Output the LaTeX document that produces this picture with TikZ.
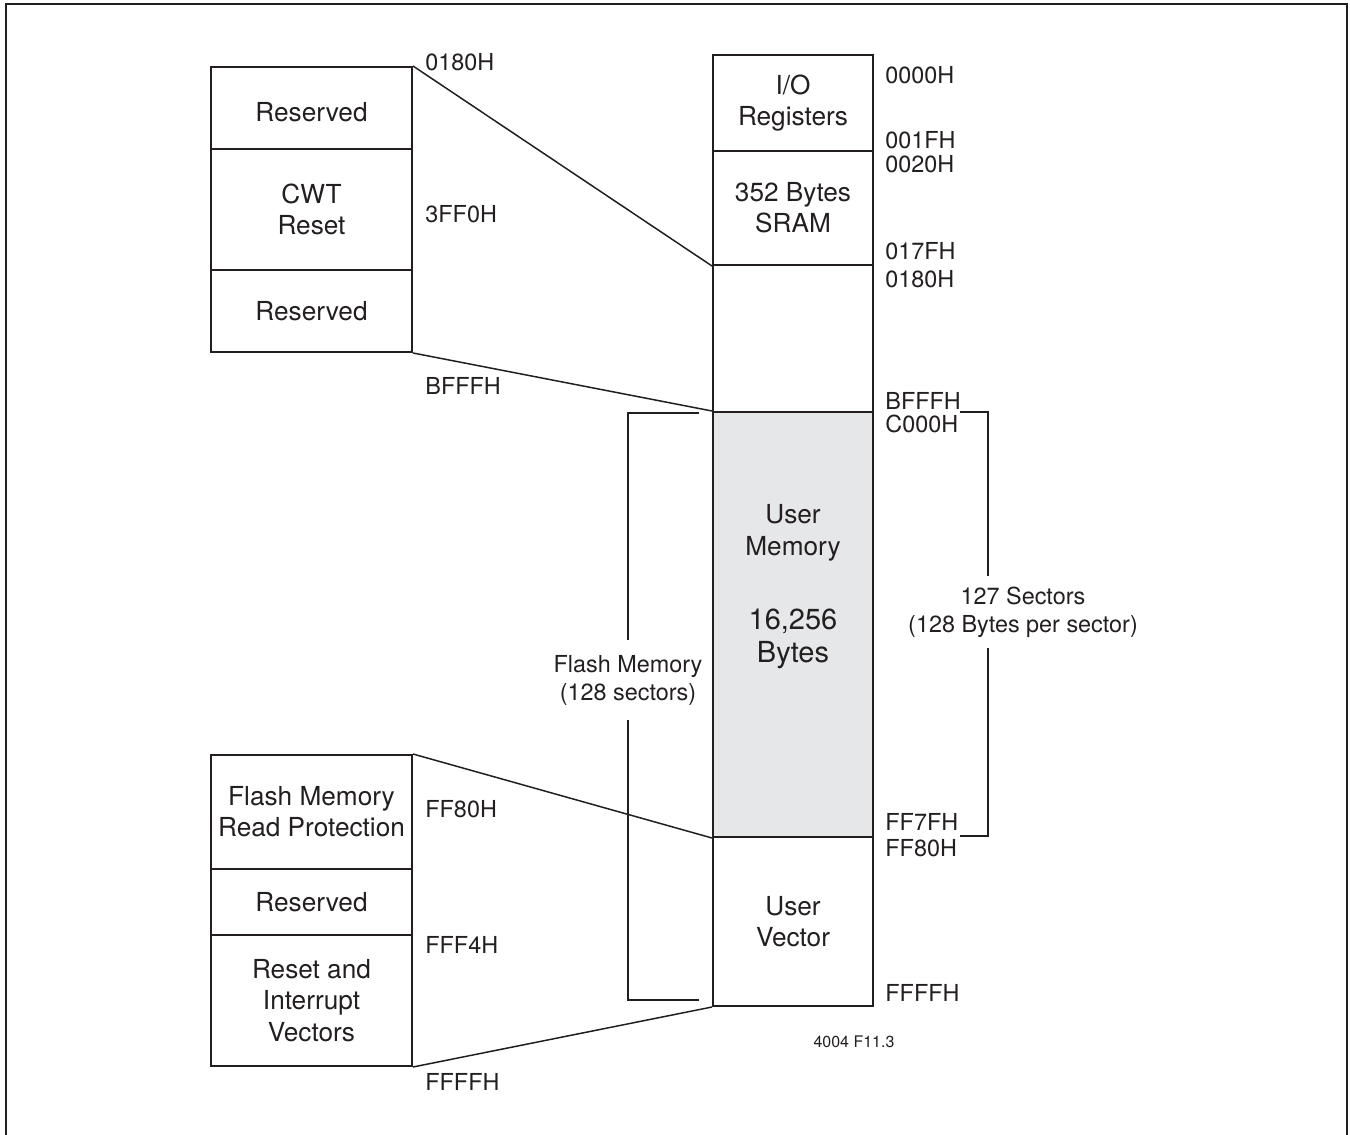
\documentclass[tikz,border=0pt]{standalone}
\usepackage{fontspec}
\setmainfont{TeX Gyre Heros}
\definecolor{ink}{RGB}{35,31,32}
\definecolor{memgray}{RGB}{230,231,232}
\begin{document}
\begin{tikzpicture}[x=0.5pt, y=-0.5pt, line join=miter, ink, text=ink,
	blk/.style={draw, line width=1pt, inner sep=0pt, align=center, font=\fontsize{13.1}{15.6}\selectfont},
	lbox/.style={blk, minimum width=100.5pt},
	colbox/.style={blk, minimum width=80pt},
	addr/.style={anchor=west, inner sep=0pt, font=\fontsize{11.7}{14}\selectfont},
	note/.style={align=center, inner sep=5pt, font=\fontsize{11.7}{14}\selectfont},
	link/.style={line width=0.75pt},
	brkt/.style={line width=1pt}]
	\useasboundingbox (0,0) rectangle (1350,1135);
	\draw[line width=1.4pt] (6,1135) -- (6,4) -- (1347,4) -- (1347,1135);
	% left blow-ups
	\node[lbox, minimum height=41pt, text height=13pt, text depth=0pt] (res1) at (311.5,108) {Reserved};
	\node[lbox, minimum height=60.5pt] (cwt) at (311.5,209.5) {CWT\\Reset};
	\node[lbox, minimum height=41pt] (res2) at (311.5,311) {Reserved};
	\node[lbox, minimum height=57pt] (frp) at (311.5,812) {Flash Memory\\Read Protection};
	\node[lbox, minimum height=33pt] (res3) at (311.5,902) {Reserved};
	\node[lbox, minimum height=65.5pt] (rst) at (311.5,1000.5) {Reset and\\Interrupt\\Vectors};
	% memory map
	\node[colbox, minimum height=48pt] (io) at (793,103) {I/O\\Registers};
	\node[colbox, minimum height=57pt] (sram) at (793,208) {352 Bytes\\SRAM};
	\node[colbox, minimum height=73.5pt] (free) at (793,338.5) {};
	\node[colbox, minimum height=212.5pt, fill=memgray] (user) at (793,624.5) {};
	\node[colbox, minimum height=84.5pt] (vec) at (793,921.5) {User\\Vector};
	\node[align=center, font=\fontsize{13.1}{15.8}\selectfont] (usrname) at (793,533) {User\\Memory};
	\node[align=center, font=\fontsize{14.5}{16.4}\selectfont] (usrsize) at (793,639) {16,256\\Bytes};
	\draw[link] (res1.north east) -- (sram.south west);
	\draw[link] (res2.south east) -- (user.north west);
	\draw[link] (frp.north east) -- (user.south west);
	\draw[link] (rst.south east) -- (vec.south west);
	\foreach \t/\y [count=\i] in {0180H/62, 3FF0H/214, BFFFH/386, FF80H/809, FFF4H/945, FFFFH/1082}
		\node[addr] (ladr\i) at (425,\y) {\t};
	\foreach \t/\y [count=\i] in {0000H/75, 001FH/140, 0020H/164, 017FH/251, 0180H/279, BFFFH/401, C000H/424, FF7FH/822, FF80H/848, FFFFH/993}
		\node[addr] (cadr\i) at (885,\y) {\t};
	% brackets
	\node[note] (sectors) at (1023,612) {127 Sectors\\(128 Bytes per sector)};
	\node[note, inner sep=7.5pt] (flash) at (628,680) {Flash Memory\\(128 sectors)};
	\coordinate (rtop) at (960,412);
	\coordinate (rbot) at (960,836);
	\coordinate (rx) at (988,0);
	\coordinate (ltop) at (699,413);
	\coordinate (lbot) at (699,1000);
	\coordinate (lx) at (628,0);
	\draw[brkt] (rtop) -| (sectors.north -| rx);
	\draw[brkt] (sectors.south -| rx) |- (rbot);
	\draw[brkt] (ltop) -| (flash.north -| lx);
	\draw[brkt] (flash.south -| lx) |- (lbot);
	\node[font=\fontsize{8}{9}\selectfont] (fig) at (854,1042) {4004 F11.3};
\end{tikzpicture}
\end{document}
